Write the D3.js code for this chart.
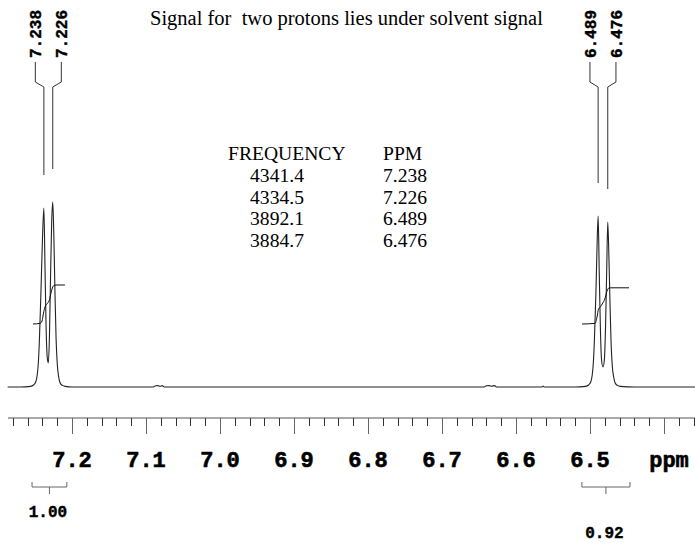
<!DOCTYPE html>
<html>
<head>
<meta charset="utf-8">
<script src="https://cdn.jsdelivr.net/npm/d3@7/dist/d3.min.js"></script>
<style>
  html, body { margin: 0; padding: 0; background: #fff; }
  svg { display: block; }
</style>
</head>
<body>
<div id="chart"></div>
<script>
// ---------- data ----------
const title = "Signal for  two protons lies under solvent signal";

// spectrum trace: [ppm, intensity]
const spectrum = [
  [7.287, 0], [7.270, 0], [7.256, 0.3], [7.252, 1], [7.249, 2.5], [7.247, 6], [7.2455, 12], [7.244, 24],
  [7.242, 47], [7.240, 73], [7.238, 89.5], [7.2365, 60], [7.235, 30], [7.2335, 15],
  [7.232, 12], [7.2305, 25], [7.229, 55], [7.2275, 82], [7.226, 92.5], [7.2245, 75],
  [7.223, 47], [7.2215, 24], [7.220, 12], [7.218, 5], [7.216, 2], [7.213, 0.8], [7.209, 0.3], [7.200, 0],
  [7.090, 0], [7.087, 0.6], [7.084, 0.7], [7.081, 0.4], [7.078, 0.7], [7.075, 0],
  [6.643, 0], [6.640, 0.6], [6.636, 0.7], [6.633, 0.4], [6.629, 0.7], [6.626, 0],
  [6.565, 0], [6.5635, 0.5], [6.562, 0],
  [6.520, 0], [6.506, 0.3], [6.502, 1], [6.499, 2.5], [6.497, 6], [6.4955, 12], [6.494, 24], [6.492, 47],
  [6.4905, 70], [6.489, 85.5], [6.4875, 57], [6.486, 30], [6.4845, 14], [6.4825, 10],
  [6.4805, 14], [6.479, 30], [6.4775, 57], [6.476, 82.5], [6.4745, 66], [6.473, 42],
  [6.4715, 22], [6.470, 11], [6.468, 5], [6.466, 2], [6.463, 0.8], [6.459, 0.3], [6.440, 0], [6.358, 0]
].sort((a, b) => b[0] - a[0]);

// integral traces: [ppm, value]
const integralA = [
  [7.2527, 31.5], [7.2432, 31.8], [7.2405, 33], [7.2385, 37], [7.2365, 40], [7.234, 41.5],
  [7.231, 43], [7.229, 46], [7.2266, 49.5], [7.2243, 50.8], [7.2216, 51], [7.2095, 51]
];
const integralB = [
  [6.5108, 31.5], [6.4932, 31.8], [6.4905, 35], [6.4885, 39], [6.486, 40], [6.4835, 41.5],
  [6.480, 44], [6.477, 48], [6.4745, 49.5], [6.472, 49.6], [6.4473, 49.6]
];

// peak picks
const peakGroups = [
  { labels: ["7.238", "7.226"], ppm: [7.238, 7.226], height: [89.5, 92.5] },
  { labels: ["6.489", "6.476"], ppm: [6.489, 6.476], height: [85.5, 82.5] }
];

// integration regions
const integrals = [
  { from: 7.254, to: 7.207, label: "1.00" },
  { from: 6.511, to: 6.446, label: "0.92" }
];

// table
const tableHeaders = ["FREQUENCY", "PPM"];
const frequencies = ["4341.4", "4334.5", "3892.1", "3884.7"];
const ppmValues = ["7.238", "7.226", "6.489", "6.476"];

// axis
const majorTicks = [7.2, 7.1, 7.0, 6.9, 6.8, 6.7, 6.6, 6.5, 6.4];
const tickLabels = ["7.2", "7.1", "7.0", "6.9", "6.8", "6.7", "6.6", "6.5"];
const axisUnit = "ppm";

// ---------- drawing ----------
const W = 695, H = 543;
const svg = d3.select("#chart").append("svg").attr("width", W).attr("height", H);

const x = d3.scaleLinear().domain([7.2, 6.5]).range([72, 590]);
const y = d3.scaleLinear().domain([0, 100]).range([387, 187]);

const mono = "'Liberation Mono', 'Courier New', monospace";
const serif = "'Liberation Serif', 'Times New Roman', serif";

// title
svg.append("text")
  .attr("x", 150).attr("y", 25)
  .attr("font-family", serif).attr("font-size", 20.5)
  .style("white-space", "pre")
  .attr("fill", "#000")
  .text(title);

// table
const tbl = svg.append("g").attr("font-family", serif).attr("font-size", 19.6).attr("fill", "#000");
tbl.append("text").attr("x", 228).attr("y", 160).text(tableHeaders[0]);
tbl.append("text").attr("x", 383).attr("y", 160).text(tableHeaders[1]);
frequencies.forEach((f, i) => {
  const yy = 182 + i * 21.5;
  tbl.append("text").attr("x", 277).attr("y", yy).attr("text-anchor", "middle").text(f);
  tbl.append("text").attr("x", 383).attr("y", yy).text(ppmValues[i]);
});

// spectrum
const line = d3.line().x(d => x(d[0])).y(d => y(d[1])).curve(d3.curveMonotoneX);
svg.append("path").datum(spectrum)
  .attr("d", line).attr("fill", "none").attr("stroke", "#222").attr("stroke-width", 1.1);

// integrals
[integralA, integralB].forEach(arr => {
  svg.append("path").datum(arr)
    .attr("d", line).attr("fill", "none").attr("stroke", "#111").attr("stroke-width", 1);
});

// peak labels with leader lines
peakGroups.forEach(g => {
  const cx = (x(g.ppm[0]) + x(g.ppm[1])) / 2;
  g.ppm.forEach((p, i) => {
    const lx = cx + (i === 0 ? -13 : 13);
    const px = x(p);
    const yEnd = y(g.height[i]) - 33;
    svg.append("path")
      .attr("d", `M${lx},62 L${lx},82 L${px},87 L${px},${yEnd}`)
      .attr("fill", "none").attr("stroke", "#333").attr("stroke-width", 1);
    svg.append("text")
      .attr("transform", `translate(${lx},58) rotate(-90)`)
      .attr("dy", "0.35em")
      .attr("font-family", mono).attr("font-weight", "bold").attr("font-size", 16)
      .attr("fill", "#000").attr("stroke", "#000").attr("stroke-width", 0.4)
      .text(g.labels[i]);
  });
});

// axis
const axisY = 418;
svg.append("line").attr("x1", 8).attr("x2", W).attr("y1", axisY).attr("y2", axisY)
  .attr("stroke", "#555").attr("stroke-width", 1);
const minorTicks = d3.range(0, 47).map(i => +(7.28 - i * 0.02).toFixed(2))
  .filter(v => !majorTicks.some(m => Math.abs(m - v) < 1e-6));
svg.selectAll("line.minor").data(minorTicks).enter().append("line")
  .attr("class", "minor")
  .attr("x1", d => Math.round(x(d)) + 0.5).attr("x2", d => Math.round(x(d)) + 0.5)
  .attr("y1", axisY).attr("y2", axisY + 8)
  .attr("stroke", "#333").attr("stroke-width", 1);
svg.selectAll("line.major").data(majorTicks).enter().append("line")
  .attr("class", "major")
  .attr("x1", d => Math.round(x(d)) + 0.5).attr("x2", d => Math.round(x(d)) + 0.5)
  .attr("y1", axisY).attr("y2", axisY + 16)
  .attr("stroke", "#666").attr("stroke-width", 1);
svg.selectAll("text.tick").data(tickLabels).enter().append("text")
  .attr("class", "tick")
  .attr("x", d => x(+d)).attr("y", 467)
  .attr("text-anchor", "middle")
  .attr("font-family", mono).attr("font-weight", "bold").attr("font-size", 22)
  .attr("fill", "#000").attr("stroke", "#000").attr("stroke-width", 0.6)
  .text(d => d);
svg.append("text")
  .attr("x", x(6.4) + 5).attr("y", 467).attr("text-anchor", "middle")
  .attr("font-family", mono).attr("font-weight", "bold").attr("font-size", 22)
  .attr("fill", "#000").attr("stroke", "#000").attr("stroke-width", 0.6).text(axisUnit);

// integration brackets
integrals.forEach((r, i) => {
  const x1 = x(r.from), x2 = x(r.to), mx = (x1 + x2) / 2;
  svg.append("path")
    .attr("d", `M${x1},482 L${x1},487 L${x2},487 L${x2},482 M${mx},487 L${mx},494`)
    .attr("fill", "none").attr("stroke", "#666").attr("stroke-width", 1);
  svg.append("text")
    .attr("x", mx - 1.5).attr("y", i === 0 ? 517 : 538)
    .attr("text-anchor", "middle")
    .attr("font-family", mono).attr("font-weight", "bold").attr("font-size", 16)
    .attr("fill", "#000").attr("stroke", "#000").attr("stroke-width", 0.4).text(r.label);
});
</script>
</body>
</html>
